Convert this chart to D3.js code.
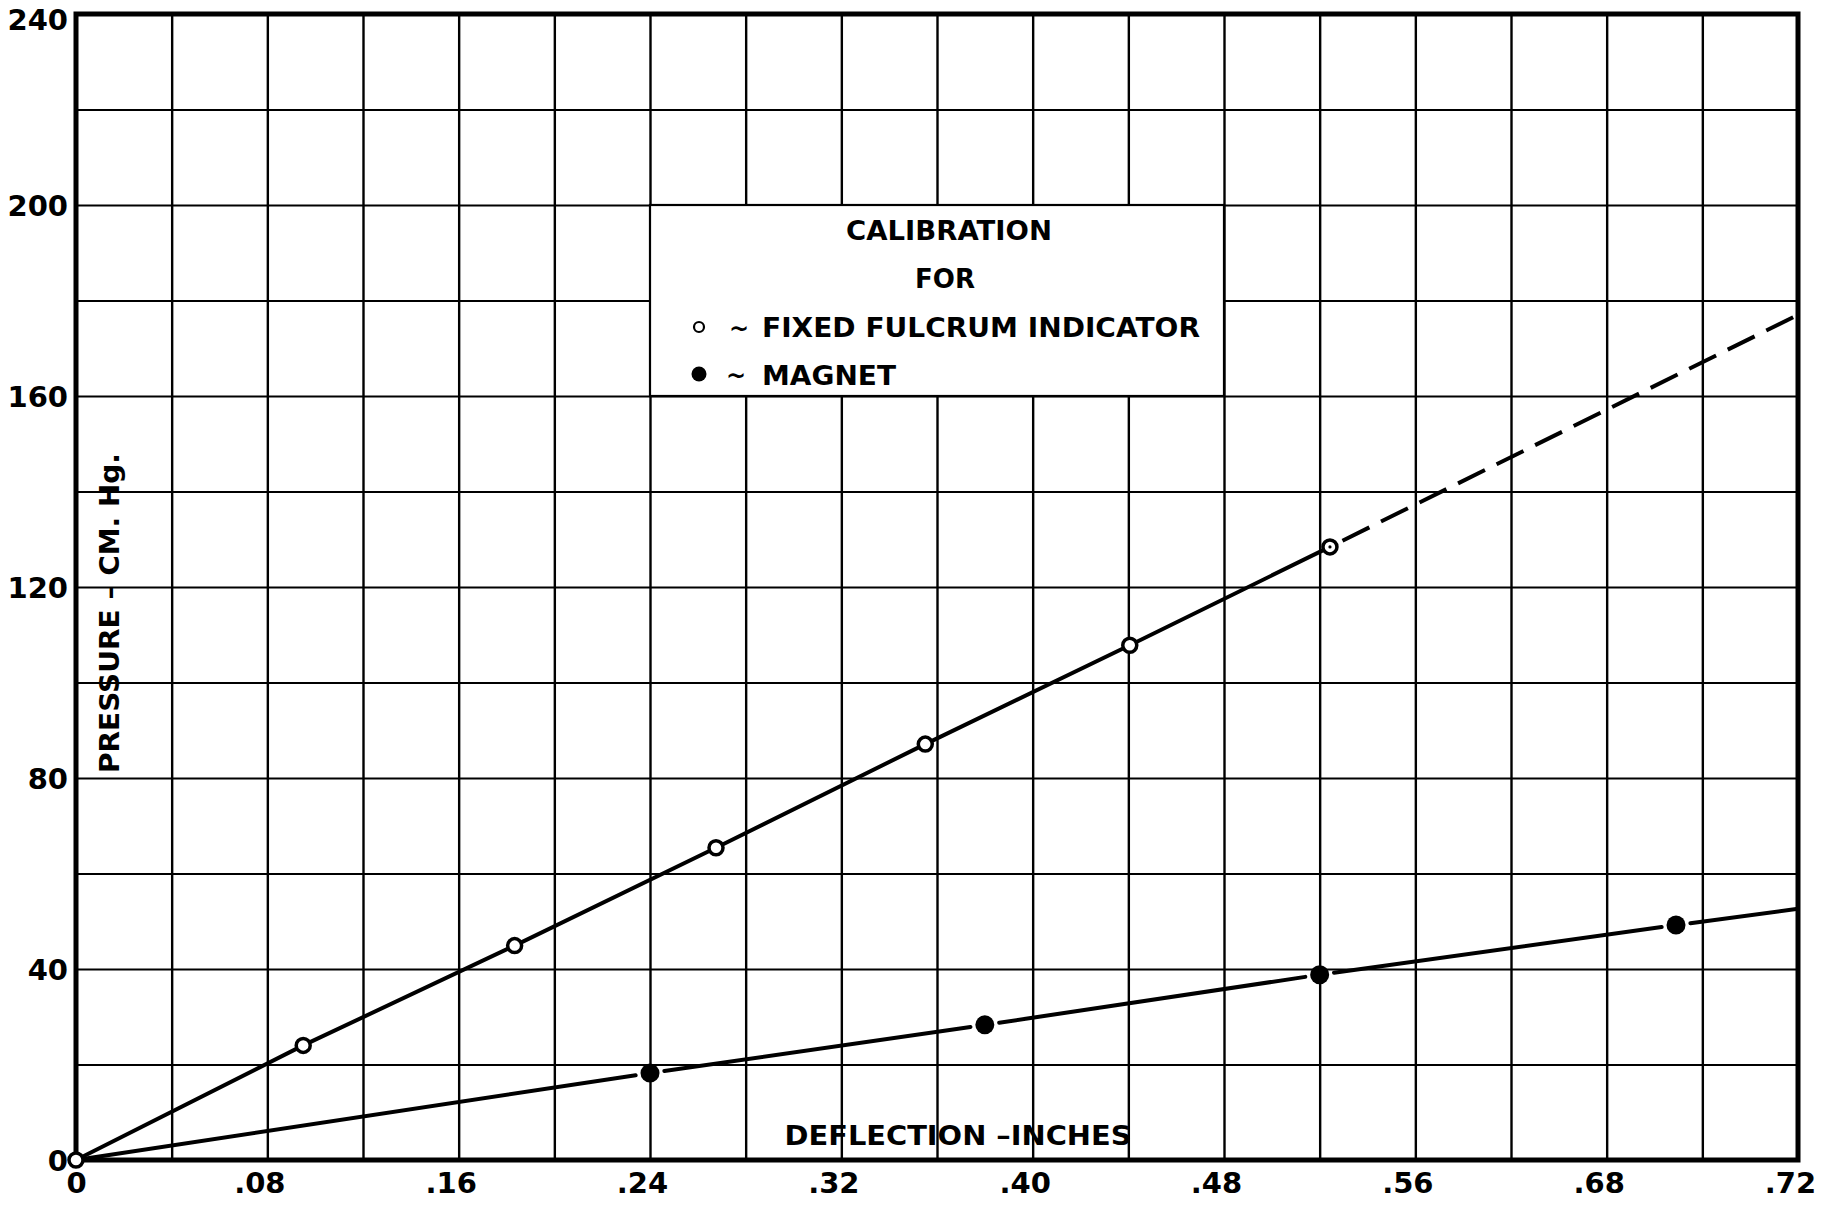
<!DOCTYPE html>
<html>
<head>
<meta charset="utf-8">
<script src="https://cdn.jsdelivr.net/npm/d3@7"></script>
<style>
  html, body { margin: 0; padding: 0; background: #fff; }
  svg { display: block; }
  text { font-family: "DejaVu Sans", sans-serif; font-weight: bold; fill: #000; }
</style>
</head>
<body>
<svg id="chart" width="1837" height="1206"></svg>
<script>
// ---------------- data ----------------
const fixedDeflection = [0, 0.095, 0.1834, 0.2676, 0.3551, 0.4406, 0.5243];
const fixedPressure   = [0, 24.0, 44.9, 65.4, 87.1, 107.8, 128.4];
const fixedExtrapX    = [0.5243, 0.72];
const fixedExtrapY    = [128.4, 177.0];

const magnetDeflection = [0.240, 0.380, 0.520, 0.669];
const magnetPressure   = [18.2, 28.3, 38.8, 49.2];
const magnetLineStart  = [0, 0];
const magnetLineEnd    = [0.72, 52.6];

const xGridValues = d3.range(1, 18).map(i => +(i * 0.04).toFixed(2));
const yGridValues = d3.range(1, 12).map(i => i * 20);
const xTickValues = [0, 0.08, 0.16, 0.24, 0.32, 0.40, 0.48, 0.56, 0.64, 0.72];
const xTickLabels = ["0", ".08", ".16", ".24", ".32", ".40", ".48", ".56", ".68", ".72"];
const yTickValues = [0, 40, 80, 120, 160, 200, 240];
const yTickLabels = ["0", "40", "80", "120", "160", "200", "240"];

const legendTitle = ["CALIBRATION", "FOR"];
const legendItems = ["FIXED FULCRUM INDICATOR", "MAGNET"];
const legendBoxX = [0.24, 0.48];
const legendBoxY = [160, 200];
const xTitle = "DEFLECTION –INCHES";
const yTitle = "PRESSURE – CM. Hg.";

// ---------------- layout ----------------
const svg = d3.select("#chart");
const L = 76, R = 1798, T = 14, B = 1160;
const x = d3.scaleLinear().domain([0, 0.72]).range([L, R]);
const y = d3.scaleLinear().domain([0, 240]).range([B, T]);

svg.append("rect").attr("width", 1837).attr("height", 1206).attr("fill", "#fff");

// grid
const gx = svg.append("g").attr("transform", `translate(0,${B})`)
  .call(d3.axisBottom(x).tickValues(xGridValues).tickSize(-(B - T)).tickFormat(""));
gx.select(".domain").remove();
gx.selectAll("line").attr("stroke", "#000").attr("stroke-width", 2.4);

const gy = svg.append("g").attr("transform", `translate(${L},0)`)
  .call(d3.axisLeft(y).tickValues(yGridValues).tickSize(-(R - L)).tickFormat(""));
gy.select(".domain").remove();
gy.selectAll("line").attr("stroke", "#000").attr("stroke-width", 2);

// legend box (hides grid)
svg.append("rect")
  .attr("x", x(legendBoxX[0])).attr("y", y(legendBoxY[1]))
  .attr("width", x(legendBoxX[1]) - x(legendBoxX[0]))
  .attr("height", y(legendBoxY[0]) - y(legendBoxY[1]))
  .attr("fill", "#fff").attr("stroke", "#000").attr("stroke-width", 2.2);

// frame
svg.append("rect").attr("x", L).attr("y", T).attr("width", R - L).attr("height", B - T)
  .attr("fill", "none").attr("stroke", "#000").attr("stroke-width", 5);

// ---------------- lines ----------------
const line = d3.line().x(d => x(d[0])).y(d => y(d[1]));
const fixedPts = fixedDeflection.map((d, i) => [d, fixedPressure[i]]);

svg.append("path").datum(fixedPts).attr("d", line)
  .attr("fill", "none").attr("stroke", "#000").attr("stroke-width", 4).attr("stroke-linecap", "round");

function trimmed(p, q, t0, t1) {
  const dx = q[0] - p[0], dy = q[1] - p[1], len = Math.hypot(dx, dy);
  return [[p[0] + dx * t0 / len, p[1] + dy * t0 / len], [q[0] - dx * t1 / len, q[1] - dy * t1 / len]];
}
{
  const p = [x(fixedExtrapX[0]), y(fixedExtrapY[0])], q = [x(fixedExtrapX[1]), y(fixedExtrapY[1])];
  const s = trimmed(p, q, 14, 0);
  svg.append("line").attr("x1", s[0][0]).attr("y1", s[0][1]).attr("x2", s[1][0]).attr("y2", s[1][1])
    .attr("stroke", "#000").attr("stroke-width", 4).attr("stroke-dasharray", "30,13");
}

const magPts = [magnetLineStart].concat(magnetDeflection.map((d, i) => [d, magnetPressure[i]]), [magnetLineEnd])
  .map(d => [x(d[0]), y(d[1])]);
const dotR = 9.5, gap = 5;
for (let i = 0; i < magPts.length - 1; i++) {
  const t0 = (i > 0) ? dotR + gap : 0;
  const t1 = (i + 1 < magPts.length - 1) ? dotR + gap : 0;
  const s = trimmed(magPts[i], magPts[i + 1], t0, t1);
  svg.append("line").attr("x1", s[0][0]).attr("y1", s[0][1]).attr("x2", s[1][0]).attr("y2", s[1][1])
    .attr("stroke", "#000").attr("stroke-width", 4).attr("stroke-linecap", "round");
}

// markers
svg.selectAll("circle.fixed").data(fixedPts).enter().append("circle")
  .attr("class", "fixed").attr("cx", d => x(d[0])).attr("cy", d => y(d[1])).attr("r", 7)
  .attr("fill", "#fff").attr("stroke", "#000").attr("stroke-width", 3.5);
{
  const last = fixedPts[fixedPts.length - 1];
  svg.append("circle").attr("cx", x(last[0])).attr("cy", y(last[1])).attr("r", 1.6).attr("fill", "#000");
}
svg.selectAll("circle.magnet").data(magnetDeflection.map((d, i) => [d, magnetPressure[i]])).enter().append("circle")
  .attr("class", "magnet").attr("cx", d => x(d[0])).attr("cy", d => y(d[1])).attr("r", dotR).attr("fill", "#000");

// ---------------- tick labels ----------------
const ax = svg.append("g").attr("transform", `translate(0,${B})`)
  .call(d3.axisBottom(x).tickValues(xTickValues).tickSize(0).tickPadding(0)
    .tickFormat((d, i) => xTickLabels[i]));
ax.select(".domain").remove();
ax.selectAll("text").attr("y", 33).attr("dy", 0)
  .attr("dx", (d, i) => xTickLabels[i].startsWith(".") ? -8 : 0)
  .style("font-size", "29px").style("font-family", "DejaVu Sans").style("font-weight", "bold").attr("fill", "#000");

const ay = svg.append("g").attr("transform", `translate(${L},0)`)
  .call(d3.axisLeft(y).tickValues(yTickValues).tickSize(0).tickPadding(0)
    .tickFormat((d, i) => yTickLabels[i]));
ay.select(".domain").remove();
ay.selectAll("text").attr("x", -8).attr("dy", "0.36em")
  .attr("y", d => Math.max(0, 19 - y(d)))
  .style("font-size", "29px").style("font-family", "DejaVu Sans").style("font-weight", "bold").attr("fill", "#000");

// ---------------- axis titles ----------------
svg.append("text").attr("x", 958).attr("y", 1145).attr("text-anchor", "middle")
  .attr("textLength", 347).attr("lengthAdjust", "spacingAndGlyphs")
  .style("font-size", "27px").text(xTitle);

svg.append("text").attr("transform", "translate(119,613) rotate(-90)").attr("text-anchor", "middle")
  .attr("textLength", 320).attr("lengthAdjust", "spacingAndGlyphs")
  .style("font-size", "27px").text(yTitle);

// ---------------- legend ----------------
svg.append("text").attr("x", 949).attr("y", 240).attr("text-anchor", "middle")
  .attr("textLength", 206).attr("lengthAdjust", "spacingAndGlyphs")
  .style("font-size", "27px").text(legendTitle[0]);
svg.append("text").attr("x", 945).attr("y", 288).attr("text-anchor", "middle")
  .attr("textLength", 60).attr("lengthAdjust", "spacingAndGlyphs")
  .style("font-size", "27px").text(legendTitle[1]);

svg.append("circle").attr("cx", 699).attr("cy", 327).attr("r", 5).attr("fill", "#fff")
  .attr("stroke", "#000").attr("stroke-width", 2.2);
svg.append("circle").attr("cx", 699).attr("cy", 374).attr("r", 7.5).attr("fill", "#000");
svg.append("text").attr("x", 739).attr("y", 337).attr("text-anchor", "middle").style("font-size", "24px").text("~");
svg.append("text").attr("x", 736).attr("y", 384).attr("text-anchor", "middle").style("font-size", "24px").text("~");

svg.append("text").attr("x", 762).attr("y", 337)
  .attr("textLength", 438).attr("lengthAdjust", "spacingAndGlyphs")
  .style("font-size", "27px").text(legendItems[0]);
svg.append("text").attr("x", 762).attr("y", 385)
  .attr("textLength", 134).attr("lengthAdjust", "spacingAndGlyphs")
  .style("font-size", "27px").text(legendItems[1]);
</script>
</body>
</html>
